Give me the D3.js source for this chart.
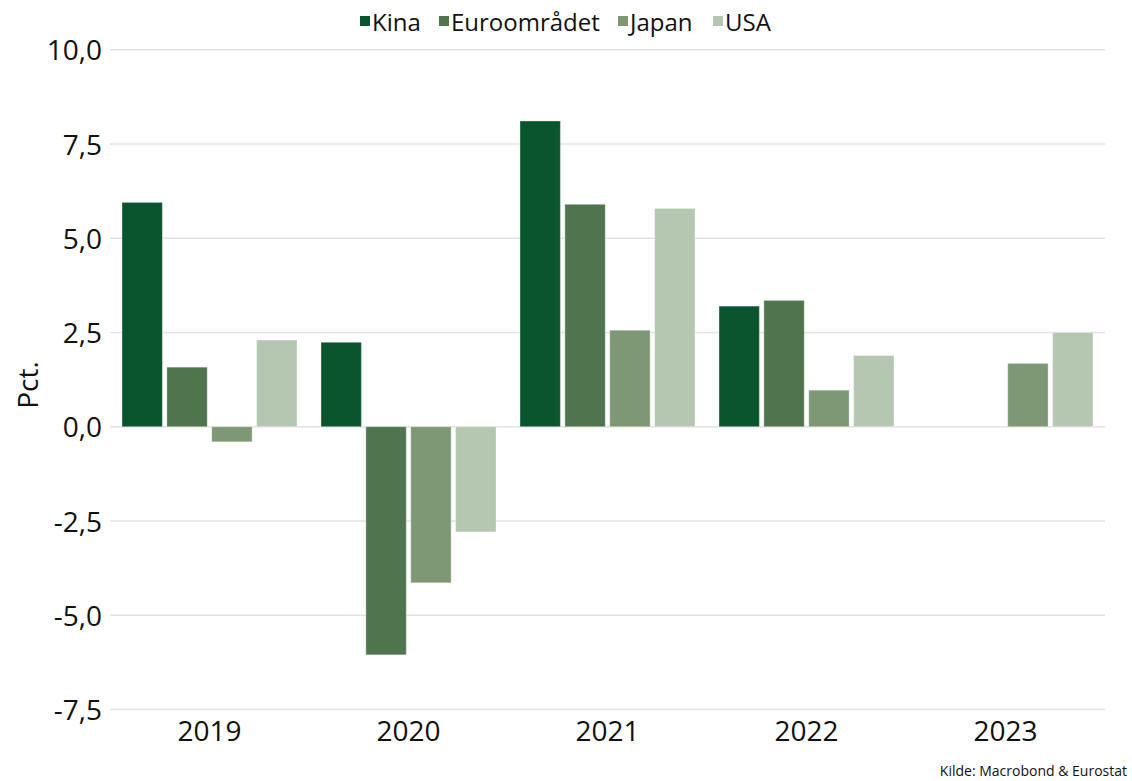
<!DOCTYPE html>
<html>
<head>
<meta charset="utf-8">
<script src="https://cdn.jsdelivr.net/npm/d3@7"></script>
<style>
  body { margin: 0; background: #fff; }
  svg { font-family: "Open Sans", "Noto Sans", sans-serif; }
</style>
</head>
<body>
<svg id="chart" width="1132" height="781"></svg>
<script>
'use strict';

// data
var years = ["2019", "2020", "2021", "2022", "2023"];
var series = ["Kina", "Euroområdet", "Japan", "USA"];
var kina = [5.95, 2.24, 8.11, 3.20, null];
var euro = [1.58, -6.05, 5.90, 3.35, null];
var japan = [-0.40, -4.14, 2.56, 0.97, 1.68];
var usa = [2.30, -2.79, 5.79, 1.89, 2.50];
var yTicks = [-7.5, -5, -2.5, 0, 2.5, 5, 7.5, 10];
var colors = ["#0b552e", "#50744e", "#7e9876", "#b5c7b0"];

var values = [kina, euro, japan, usa];

var svg = d3.select("#chart"),
    plotLeft = 110, plotRight = 1105, plotTop = 49.7, plotBottom = 709.5;

var locale = d3.formatLocale({decimal: ",", thousands: ".", grouping: [3], currency: ["", " kr"], minus: "-"});
var fmt = locale.format(".1f");

var y = d3.scaleLinear().domain([-7.5, 10]).range([plotBottom, plotTop]);
var x0 = d3.scaleBand().domain(years).range([plotLeft, plotRight]);
var x1 = d3.scaleBand().domain(series).range([12, 187]).paddingInner(0.1);
var color = d3.scaleOrdinal().domain(series).range(colors);

// gridlines
svg.append("g")
    .selectAll("line")
    .data(yTicks)
  .enter().append("line")
    .attr("x1", plotLeft).attr("x2", plotRight)
    .attr("y1", function(d) { return y(d); })
    .attr("y2", function(d) { return y(d); })
    .attr("stroke", "#e2e2e2")
    .attr("stroke-width", 1.5);

// y axis labels
var yAxis = svg.append("g")
    .attr("transform", "translate(" + (plotLeft - 8) + ",0)")
    .call(d3.axisLeft(y).tickValues(yTicks).tickFormat(fmt).tickSize(0).tickPadding(0));
yAxis.select(".domain").remove();
yAxis.selectAll("text")
    .attr("fill", "#111")
    .attr("dy", "0.36em")
    .style("font-size", "28px")
    .style("font-family", "'Open Sans', sans-serif");

// x axis labels
var xAxis = svg.append("g")
    .attr("transform", "translate(0," + (plotBottom + 12) + ")")
    .call(d3.axisBottom(x0).tickSize(0).tickPadding(0));
xAxis.select(".domain").remove();
xAxis.selectAll("text")
    .attr("fill", "#111")
    .attr("dy", "0.71em")
    .style("font-size", "28px")
    .style("font-family", "'Open Sans', sans-serif");

// bars
var rows = [];
years.forEach(function(yr, i) {
    series.forEach(function(s, j) {
        if (values[j][i] != null) rows.push({year: yr, key: s, value: values[j][i]});
    });
});

svg.append("g")
    .selectAll("rect")
    .data(rows)
  .enter().append("rect")
    .attr("x", function(d) { return x0(d.year) + x1(d.key); })
    .attr("width", x1.bandwidth())
    .attr("y", function(d) { return y(Math.max(0, d.value)); })
    .attr("height", function(d) { return Math.abs(y(d.value) - y(0)); })
    .attr("fill", function(d) { return color(d.key); })
    .attr("stroke", "rgba(255,255,255,0.35)")
    .attr("stroke-width", 1);

// y title
svg.append("text")
    .attr("transform", "translate(38,385) rotate(-90)")
    .attr("text-anchor", "middle")
    .attr("fill", "#111")
    .style("font-size", "28px")
    .text("Pct.");

// legend
var legendX = [358, 437, 616, 711];
var legend = svg.append("g")
    .selectAll("g")
    .data(series)
  .enter().append("g")
    .attr("transform", function(d, i) { return "translate(" + legendX[i] + ",0)"; });
legend.append("rect")
    .attr("x", 2).attr("y", 16)
    .attr("width", 10).attr("height", 10)
    .attr("fill", function(d) { return color(d); });
legend.append("text")
    .attr("x", 14).attr("y", 31)
    .attr("fill", "#111")
    .style("font-size", "24px")
    .text(function(d) { return d; });

// source
svg.append("text")
    .attr("x", 1127).attr("y", 776)
    .attr("text-anchor", "end")
    .attr("fill", "#111")
    .style("font-size", "14px")
    .text("Kilde: Macrobond & Eurostat");
</script>
</body>
</html>
